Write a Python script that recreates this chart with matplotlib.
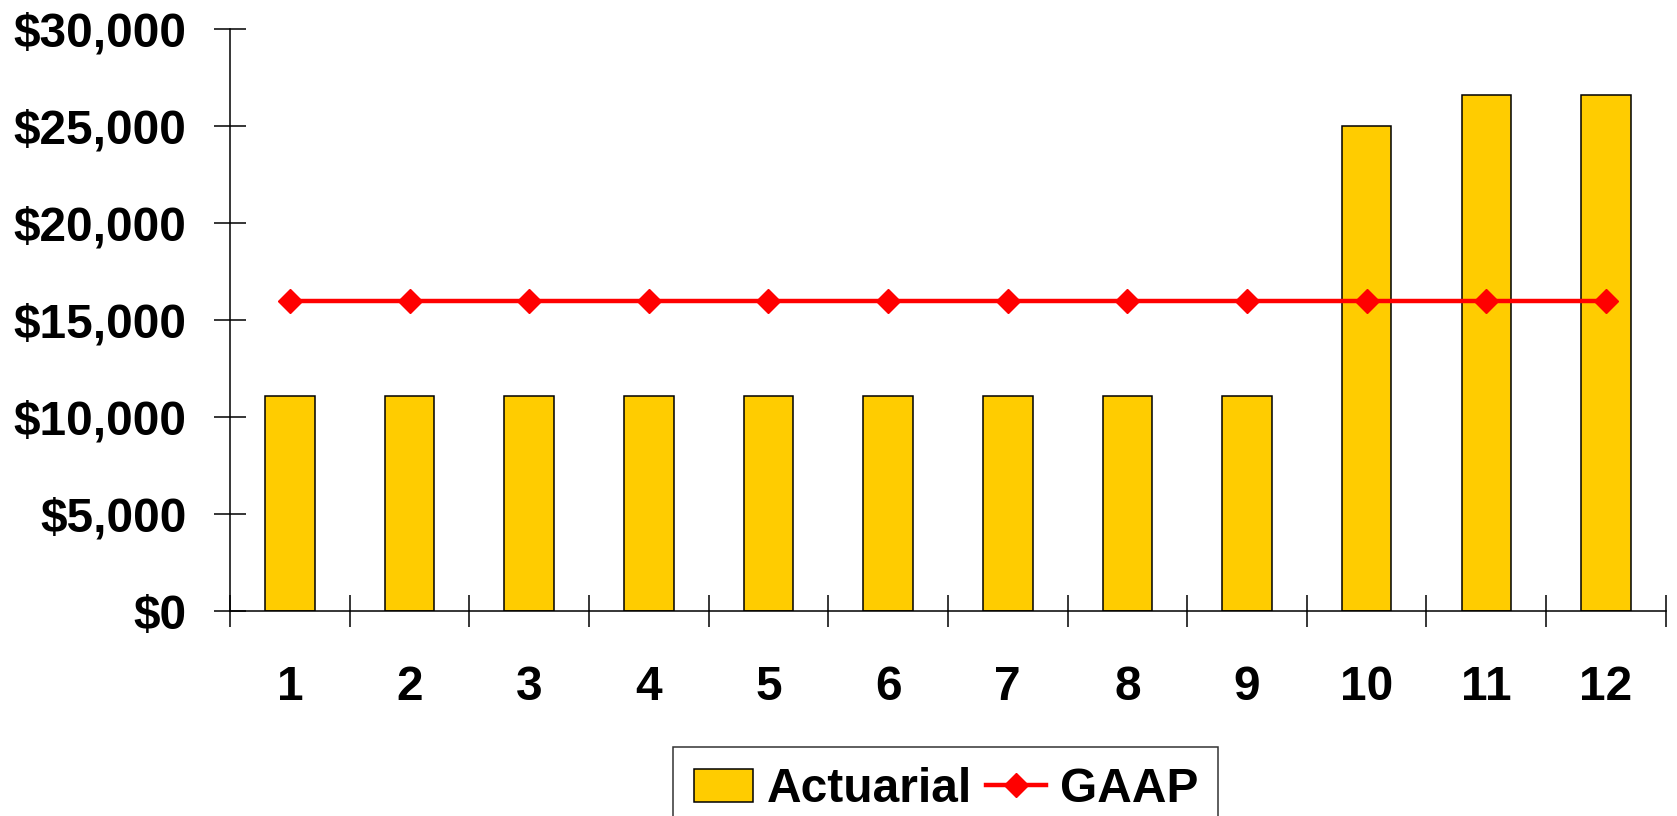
import numpy as np
import matplotlib
matplotlib.use("Agg")
import matplotlib.pyplot as plt
from matplotlib.ticker import FuncFormatter

# -------------------------------------------------------
# Data
# -------------------------------------------------------
periods = [1, 2, 3, 4, 5, 6, 7, 8, 9, 10, 11, 12]
actuarial = [11100, 11100, 11100, 11100, 11100, 11100, 11100, 11100, 11100,
             25000, 26600, 26600]
gaap = [16000] * 12
y_ticks = [0, 5000, 10000, 15000, 20000, 25000, 30000]

BAR_COLOR = "#FFCC00"
LINE_COLOR = "#FF0000"
FONT = "Liberation Sans"
FS = 34.5

plt.rcParams["font.family"] = [FONT, "DejaVu Sans"]
plt.rcParams["font.weight"] = "bold"

fig = plt.figure(figsize=(16.77, 8.16), dpi=100)
ax = fig.add_axes([0.1372, 0.2512, 0.9933 - 0.1372, 0.9641 - 0.2512])

x = np.array(periods)
bars = ax.bar(x, actuarial, width=0.414, color=BAR_COLOR, edgecolor="black",
              linewidth=1.1, label="Actuarial", zorder=2)
line, = ax.plot(x, gaap, color=LINE_COLOR, linewidth=3.2, marker="D",
                markersize=12.5, label="GAAP", zorder=3)

ax.set_xlim(0.5, 12.5)
ax.set_ylim(0, 30000)

# ticks crossing the axes, category ticks sit between the bars
ax.set_yticks(y_ticks)
ax.yaxis.set_major_formatter(FuncFormatter(lambda v, _: f"${v:,.0f}"))
ax.set_xticks(np.arange(0.5, 13, 1.0))
ax.set_xticklabels([])
ax.set_xticks(x, minor=True)
ax.set_xticklabels([str(p) for p in periods], minor=True)

ax.tick_params(axis="y", which="major", direction="inout", length=23,
               width=1.1, pad=20, labelsize=FS)
ax.tick_params(axis="x", which="major", direction="inout", length=23,
               width=1.1)
ax.tick_params(axis="x", which="minor", length=0, pad=39, labelsize=FS)

for lbl in ax.get_yticklabels() + ax.get_xticklabels(minor=True):
    lbl.set_fontweight("bold")

for side in ("top", "right"):
    ax.spines[side].set_visible(False)
for side in ("left", "bottom"):
    ax.spines[side].set_linewidth(1.1)

# legend box, its lower edge runs off the bottom like the original slide
leg = fig.legend([bars, line], ["Actuarial", "GAAP"], loc="upper center",
                 bbox_to_anchor=(0.564, 1 - 747 / 816), borderaxespad=0,
                 ncol=2, frameon=True, fancybox=False, edgecolor="black",
                 handlelength=1.25, handletextpad=0.28, columnspacing=0.3,
                 borderpad=0.42, prop={"weight": "bold", "size": FS})
leg.get_frame().set_linewidth(1.1)

fig.savefig("out.png", dpi=100)
